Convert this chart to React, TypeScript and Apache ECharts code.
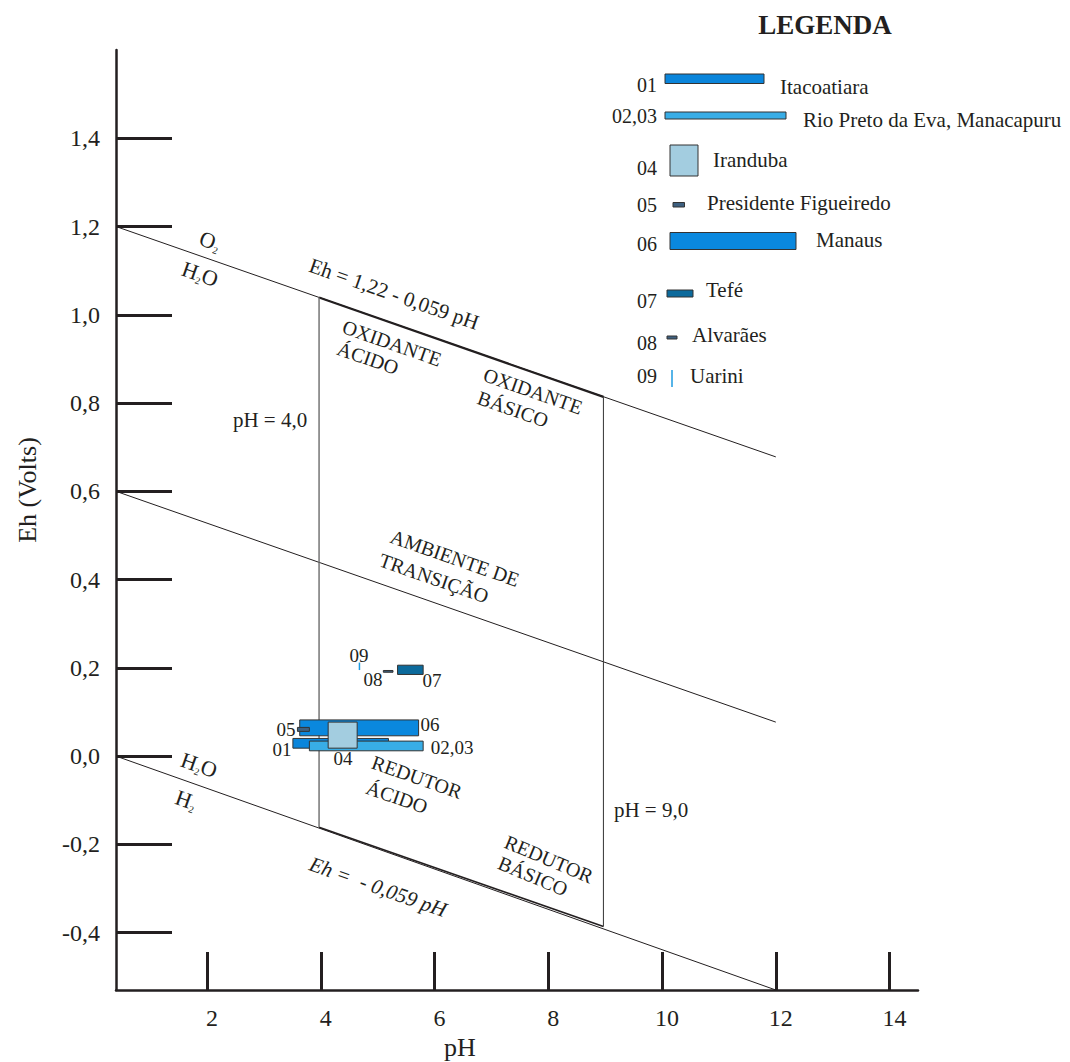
import React, { useEffect, useRef } from "react";
import * as echarts from "echarts";

// ---------------- data ----------------
const sampleIds = ["01", "02,03", "04", "05", "06", "07", "08", "09"];
const sampleNames = [
  "Itacoatiara",
  "Rio Preto da Eva, Manacapuru",
  "Iranduba",
  "Presidente Figueiredo",
  "Manaus",
  "Tefé",
  "Alvarães",
  "Uarini",
];
const phLow = [3.51, 3.8, 4.13, 3.59, 3.63, 5.35, 5.1, 4.68];
const phHigh = [5.19, 5.8, 4.64, 3.8, 5.72, 5.8, 5.27, 4.68];
const ehLow = [0.018, 0.012, 0.018, 0.056, 0.046, 0.185, 0.19, 0.195];
const ehHigh = [0.04, 0.034, 0.077, 0.065, 0.082, 0.206, 0.194, 0.212];
const drawOrder = [4, 3, 0, 1, 2, 5, 6, 7];

const upperLimit = [[0.4, 1.2], [12, 0.678]];
const upperBold = [[3.97, 1.039], [8.97, 0.814]];
const transitionLine = [[0.4, 0.6], [12, 0.077]];
const lowerLimit = [[0.4, 0.0], [12, -0.53]];
const lowerBold = [[3.97, -0.161], [8.97, -0.386]];
const ph4Line = [[3.97, 1.039], [3.97, -0.161]];
const ph9Line = [[8.97, 0.814], [8.97, -0.386]];

const xTicks = [2, 4, 6, 8, 10, 12, 14];
const yTicks = [-0.4, -0.2, 0, 0.2, 0.4, 0.6, 0.8, 1.0, 1.2, 1.4];

// ---------------- styles ----------------
const SERIF = '"Liberation Serif", "Times New Roman", serif';
const INK = "#231f20";
const sampleColors = ["#0a85db", "#38ade6", "#a3cde0", "#3e6080", "#0a88de", "#0c6a9c", "#3e6080", "#1e9be0"];
const ANG = -0.337;

function txt(text: string, x: number, y: number, size: number, opts: any = {}) {
  return {
    type: "text",
    x,
    y,
    rotation: opts.rot || 0,
    silent: true,
    style: {
      text,
      fill: INK,
      fontFamily: SERIF,
      fontSize: size,
      fontWeight: opts.weight || "normal",
      fontStyle: opts.style || "normal",
      align: opts.align || "center",
      verticalAlign: "middle",
      textAlign: opts.align || "center",
      textVerticalAlign: "middle",
      rich: opts.rich,
    },
  };
}

const subRich = (size: number) => ({
  n: { fontSize: size, fontFamily: SERIF, fill: INK, color: INK },
  s: { fontSize: 10, fontFamily: SERIF, fill: INK, color: INK, padding: [14, 0, 0, 0] },
});

export default function App() {
  const ref = useRef<HTMLDivElement>(null);

  useEffect(() => {
    if (!ref.current) return;
    const chart = echarts.init(ref.current, undefined, { renderer: "svg" });

    const boxData = drawOrder.map((i) => [phLow[i], phHigh[i], ehLow[i], ehHigh[i], i]);

    const lineSeries = (data: number[][], width: number, color = INK) => ({
      type: "line",
      data,
      symbol: "none",
      silent: true,
      z: 2,
      lineStyle: { color, width },
    });

    // legend (pixel layout)
    const legendRows = [
      { idY: 85, rect: [665, 74, 99, 9.5], nameX: 780, nameY: 87 },
      { idY: 116, rect: [665, 112, 121, 7], nameX: 803, nameY: 120 },
      { idY: 168, rect: [670, 145, 28, 31], nameX: 713, nameY: 160 },
      { idY: 205, rect: [673, 202.5, 11.5, 4.5], nameX: 707, nameY: 203 },
      { idY: 244, rect: [670, 232.5, 126, 17], nameX: 816, nameY: 240 },
      { idY: 301, rect: [667, 290, 26, 7], nameX: 706, nameY: 290 },
      { idY: 343, rect: [667, 336, 10, 3], nameX: 692, nameY: 335 },
      { idY: 376, rect: [672, 370, 0, 17], nameX: 690, nameY: 376 },
    ];
    const legendEls: any[] = [txt("LEGENDA", 825, 25, 27, { weight: "bold" })];
    legendRows.forEach((r, i) => {
      legendEls.push(txt(sampleIds[i], 657, r.idY, 20, { align: "right" }));
      legendEls.push(txt(sampleNames[i], r.nameX, r.nameY, 21, { align: "left" }));
      if (r.rect[2] === 0) {
        legendEls.push({
          type: "line",
          silent: true,
          shape: { x1: r.rect[0], y1: r.rect[1], x2: r.rect[0], y2: r.rect[1] + r.rect[3] },
          style: { stroke: sampleColors[i], lineWidth: 1.5 },
        });
      } else {
        legendEls.push({
          type: "rect",
          silent: true,
          shape: { x: r.rect[0], y: r.rect[1], width: r.rect[2], height: r.rect[3] },
          style: { fill: sampleColors[i], stroke: "#333", lineWidth: 1 },
        });
      }
    });

    const boxLabels = [
      ["09", 359, 655],
      ["08", 373, 679],
      ["07", 432, 680],
      ["06", 430, 724],
      ["05", 286, 729.5],
      ["01", 282, 749.5],
      ["02,03", 452, 747],
      ["04", 343, 758],
    ];

    const annotations: any[] = [
      txt("{n|O}{s|2}", 210, 241, 22, { rot: ANG, rich: subRich(22) }),
      txt("{n|H}{s|2}{n|O}", 200, 274, 22, { rot: ANG, rich: subRich(22) }),
      txt("{n|H}{s|2}{n|O}", 199, 765, 22, { rot: ANG, rich: subRich(22) }),
      txt("{n|H}{s|2}", 186, 800, 22, { rot: ANG, rich: subRich(22) }),
      txt("Eh = 1,22 - 0,059 pH", 394, 294, 21, { rot: ANG }),
      txt("OXIDANTE", 392, 343, 20, { rot: ANG }),
      txt("ÁCIDO", 368, 358, 20, { rot: ANG }),
      txt("OXIDANTE", 533, 391, 20, { rot: ANG }),
      txt("BÁSICO", 513, 409, 20, { rot: ANG }),
      txt("AMBIENTE DE", 455, 558, 20, { rot: ANG }),
      txt("TRANSIÇÃO", 434, 578, 20, { rot: ANG }),
      txt("REDUTOR", 417, 777, 20, { rot: ANG }),
      txt("ÁCIDO", 397, 797, 20, { rot: ANG }),
      txt("REDUTOR", 549, 859, 20, { rot: -0.4 }),
      txt("BÁSICO", 533, 876, 20, { rot: -0.4 }),
      txt("Eh =  - 0,059 pH", 378, 887, 21, { rot: ANG, style: "italic" }),
      txt("pH = 4,0", 270, 420, 21),
      txt("pH = 9,0", 651, 810, 21),
      txt("Eh (Volts)", 27, 490, 26, { rot: Math.PI / 2 }),
      txt("pH", 460, 1047, 26),
      ...boxLabels.map((b) => txt(b[0] as string, b[1] as number, b[2] as number, 19)),
    ];

    chart.setOption({
      animation: false,
      backgroundColor: "#ffffff",
      grid: { left: 116, top: 50, width: 802, height: 940, containLabel: false },
      xAxis: {
        type: "value",
        min: 0.4,
        max: 14.5,
        axisLine: { show: true, onZero: false, lineStyle: { color: INK, width: 2.5 } },
        axisTick: {
          show: true,
          inside: true,
          length: 38,
          customValues: xTicks,
          lineStyle: { color: INK, width: 3 },
        },
        axisLabel: {
          customValues: xTicks,
          fontFamily: SERIF,
          fontSize: 24,
          color: INK,
          margin: 16,
          padding: [0, 0, 0, 10],
        },
        splitLine: { show: false },
      },
      yAxis: {
        type: "value",
        min: -0.53,
        max: 1.6,
        axisLine: { show: true, onZero: false, lineStyle: { color: INK, width: 2.5 } },
        axisTick: {
          show: true,
          inside: true,
          length: 56,
          customValues: yTicks,
          lineStyle: { color: INK, width: 3 },
        },
        axisLabel: {
          customValues: yTicks,
          fontFamily: SERIF,
          fontSize: 24,
          color: INK,
          margin: 16,
          formatter: (v: number) => v.toFixed(1).replace(".", ","),
        },
        splitLine: { show: false },
      },
      series: [
        lineSeries(upperLimit, 1),
        lineSeries(upperBold, 2.2),
        lineSeries(transitionLine, 1),
        lineSeries(lowerLimit, 1),
        lineSeries(lowerBold, 1.6),
        lineSeries(ph4Line, 1.4, "#6b6b6b"),
        lineSeries(ph9Line, 1.1, "#444444"),
        {
          type: "custom",
          z: 5,
          silent: true,
          data: boxData,
          encode: { x: [0, 1], y: [2, 3] },
          renderItem: (params: any, api: any) => {
            const x0 = api.value(0);
            const x1 = api.value(1);
            const y0 = api.value(2);
            const y1 = api.value(3);
            const idx = api.value(4);
            const p0 = api.coord([x0, y1]);
            const p1 = api.coord([x1, y0]);
            const color = sampleColors[idx];
            if (x0 === x1) {
              return {
                type: "line",
                shape: { x1: p0[0], y1: p0[1], x2: p0[0], y2: p1[1] },
                style: { stroke: color, lineWidth: 1.5 },
              };
            }
            return {
              type: "rect",
              shape: { x: p0[0], y: p0[1], width: p1[0] - p0[0], height: p1[1] - p0[1] },
              style: { fill: color, stroke: "#333", lineWidth: 1 },
            };
          },
        },
      ],
      graphic: { elements: [...annotations, ...legendEls] },
    });

    return () => chart.dispose();
  }, []);

  return (
    <div
      ref={ref}
      style={{ position: "absolute", left: 0, top: 0, width: 1070, height: 1062, background: "#fff" }}
    />
  );
}
